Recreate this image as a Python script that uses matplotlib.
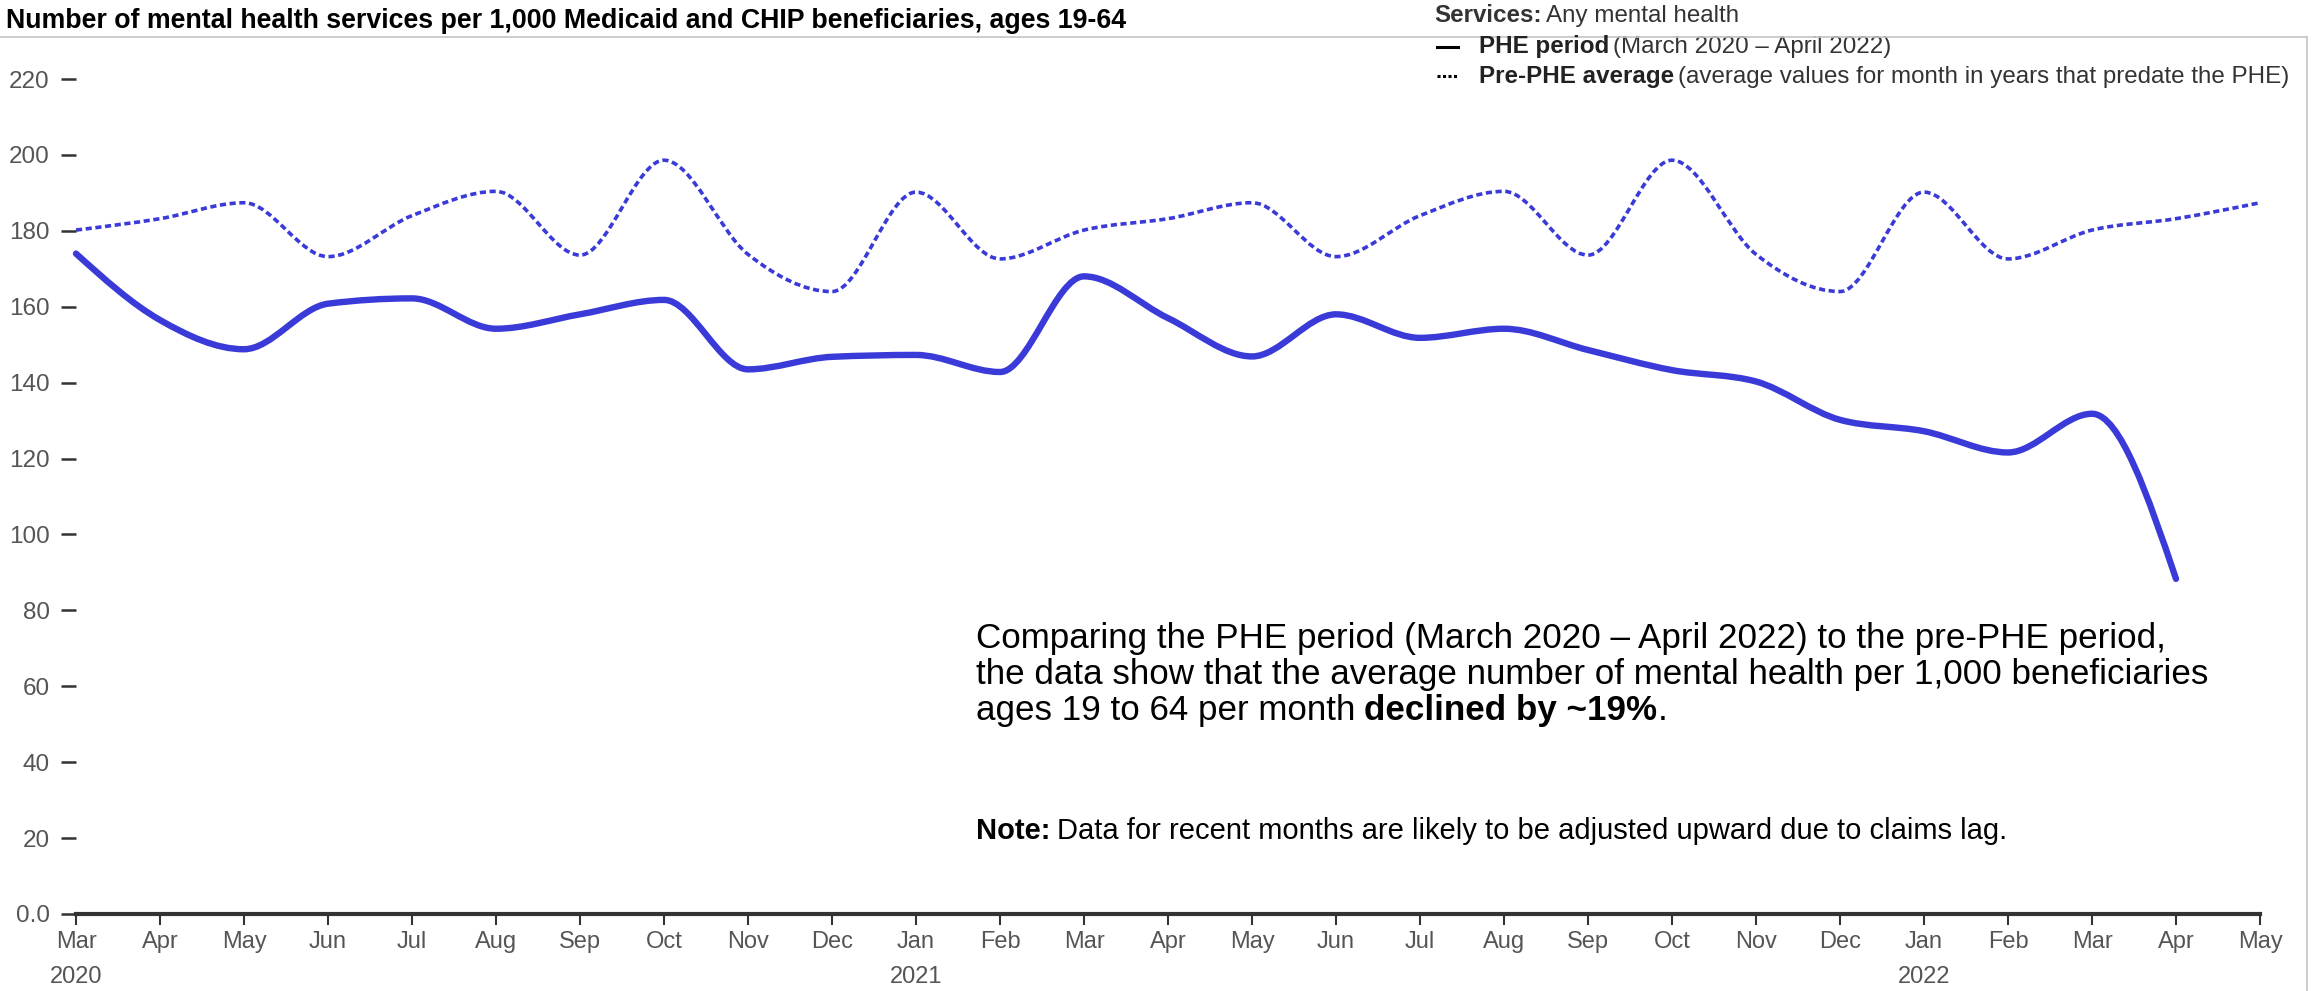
import numpy as np
import matplotlib.pyplot as plt
from matplotlib.path import Path
from matplotlib.patches import PathPatch
from matplotlib.lines import Line2D

plt.rcParams['font.family'] = ['Liberation Sans', 'DejaVu Sans']

# Months shown on the x axis (Mar 2020 - May 2022)
months = ['Mar', 'Apr', 'May', 'Jun', 'Jul', 'Aug', 'Sep', 'Oct', 'Nov', 'Dec',
          'Jan', 'Feb', 'Mar', 'Apr', 'May', 'Jun', 'Jul', 'Aug', 'Sep', 'Oct',
          'Nov', 'Dec', 'Jan', 'Feb', 'Mar', 'Apr', 'May']
years = {0: '2020', 10: '2021', 22: '2022'}

# PHE period, Mar 2020 - Apr 2022
phe_values = [174.0, 156.5, 148.8, 160.8, 162.2, 154.2, 158.0, 161.8, 143.5,
              146.8, 147.3, 142.8, 168.0, 157.0, 146.9, 158.0, 151.8, 154.2,
              148.6, 143.3, 140.3, 130.2, 127.2, 121.6, 131.8, 88.3]

# Pre-PHE average for the same calendar month, Mar 2020 - May 2022
pre_phe_values = [180.2, 183.2, 187.4, 173.2, 184.0, 190.4, 173.6, 198.6, 173.8,
                  164.0, 190.2, 172.6, 180.2, 183.2, 187.4, 173.2, 184.0, 190.4,
                  173.6, 198.6, 173.8, 164.0, 190.2, 172.6, 180.2, 183.2, 187.4]

y_ticks = [0, 20, 40, 60, 80, 100, 120, 140, 160, 180, 200, 220]
y_labels = ['0.0', '20', '40', '60', '80', '100', '120', '140', '160', '180', '200', '220']

LINE_COLOR = '#3a3ad8'
W, H = 2318, 991


def monotone_path(xs, ys):
    """Bezier path through the points, monotone in x (like d3 curveMonotoneX)."""
    xs = np.asarray(xs, float)
    ys = np.asarray(ys, float)
    n = len(xs)
    h = np.diff(xs)
    s = np.diff(ys) / h
    t = np.zeros(n)
    for i in range(1, n - 1):
        p = (s[i - 1] * h[i] + s[i] * h[i - 1]) / (h[i - 1] + h[i])
        t[i] = (np.sign(s[i - 1]) + np.sign(s[i])) * min(abs(s[i - 1]), abs(s[i]), 0.5 * abs(p))
    t[0] = (3 * s[0] - t[1]) / 2
    t[-1] = (3 * s[-1] - t[-2]) / 2
    verts = [(xs[0], ys[0])]
    codes = [Path.MOVETO]
    for i in range(n - 1):
        d = h[i] / 3
        verts += [(xs[i] + d, ys[i] + t[i] * d),
                  (xs[i + 1] - d, ys[i + 1] - t[i + 1] * d),
                  (xs[i + 1], ys[i + 1])]
        codes += [Path.CURVE4] * 3
    return Path(verts, codes)


def px(x, y):
    # pixel position (from top-left) -> figure fraction
    return x / W, 1 - y / H


fig = plt.figure(figsize=(W / 100, H / 100), dpi=100)
ax = fig.add_axes([76 / W, 77 / H, 2184 / W, 835 / H])

x_pre = np.arange(len(pre_phe_values))
x_phe = np.arange(len(phe_values))

ax.add_patch(PathPatch(monotone_path(x_pre, pre_phe_values), fill=False,
                       edgecolor=LINE_COLOR, lw=2.6, linestyle=(0, (1.7, 1.0)),
                       capstyle='butt', clip_on=False))
ax.add_patch(PathPatch(monotone_path(x_phe, phe_values), fill=False,
                       edgecolor=LINE_COLOR, lw=4.6, capstyle='round',
                       joinstyle='round', clip_on=False))

ax.set_xlim(0, len(months) - 1)
ax.set_ylim(0, 220)

for side in ['top', 'right', 'left']:
    ax.spines[side].set_visible(False)
ax.spines['bottom'].set_linewidth(3.0)
ax.spines['bottom'].set_color('#333333')

xlabels = [m + ('\n' + years[i] if i in years else '') for i, m in enumerate(months)]
ax.set_xticks(range(len(months)))
ax.set_xticklabels(xlabels, fontsize=17, color='#555555', linespacing=1.8)
ax.tick_params(axis='x', length=8, width=1.5, color='#333333', pad=4)

ax.set_yticks(y_ticks)
ax.set_yticklabels(y_labels, fontsize=17.5, color='#555555')
ax.tick_params(axis='y', length=11, width=1.8, color='#333333', pad=8)

# chart title and card border
fig.text(*px(6, 21), 'Number of mental health services per 1,000 Medicaid and CHIP beneficiaries, ages 19-64',
         fontsize=19.3, fontweight='bold', color='black', va='center', ha='left')
fig.add_artist(Line2D([0, 2307 / W], [1 - 37 / H] * 2, color='#c4c4c4', lw=1.2))
fig.add_artist(Line2D([2307 / W] * 2, [1 - 37 / H, 0], color='#c4c4c4', lw=1.2))


def chain(prev, text, gap=0.0, **kw):
    return ax.annotate(text, xy=(1, 0), xycoords=prev, xytext=(gap, 0),
                       textcoords='offset points', va='bottom', ha='left',
                       annotation_clip=False, **kw)


# legend
leg_fs = 17.4
t = fig.text(*px(1434, 27), 'Services:', fontsize=leg_fs, fontweight='bold', color='#333333',
             va='bottom', ha='left')
chain(t, 'Any mental health', gap=3.5, fontsize=leg_fs, color='#333333')

fig.add_artist(Line2D([1437 / W, 1458 / W], [1 - 47 / H] * 2, color='black', lw=2.2))
t = fig.text(*px(1479, 58), 'PHE period', fontsize=leg_fs, fontweight='bold', color='#222222',
             va='bottom', ha='left')
chain(t, '(March 2020 \u2013 April 2022)', gap=3.0, fontsize=leg_fs, color='#333333')

fig.add_artist(Line2D([1437 / W, 1458 / W], [1 - 76 / H] * 2, color='black', lw=2.2,
                      linestyle=(0, (1.0, 0.8))))
t = fig.text(*px(1479, 88), 'Pre-PHE average', fontsize=leg_fs, fontweight='bold', color='#222222',
             va='bottom', ha='left')
chain(t, '(average values for month in years that predate the PHE)', gap=3.0,
      fontsize=leg_fs, color='#333333')

# annotation
ann_fs = 25.2
fig.text(*px(976, 655), 'Comparing the PHE period (March 2020 \u2013 April 2022) to the pre-PHE period,',
         fontsize=ann_fs, color='black', va='bottom', ha='left')
fig.text(*px(976, 691), 'the data show that the average number of mental health per 1,000 beneficiaries',
         fontsize=ann_fs, color='black', va='bottom', ha='left')
t = fig.text(*px(976, 727), 'ages 19 to 64 per month', fontsize=ann_fs, color='black',
             va='bottom', ha='left')
t = chain(t, 'declined by ~19%', gap=6.0, fontsize=ann_fs, fontweight='bold', color='black')
chain(t, '.', gap=0.5, fontsize=ann_fs, color='black')

note_fs = 21
t = fig.text(*px(976, 845), 'Note:', fontsize=note_fs, fontweight='bold', color='black',
             va='bottom', ha='left')
chain(t, 'Data for recent months are likely to be adjusted upward due to claims lag.',
      gap=5.0, fontsize=note_fs, color='black')

fig.savefig('out.png', dpi=100)
